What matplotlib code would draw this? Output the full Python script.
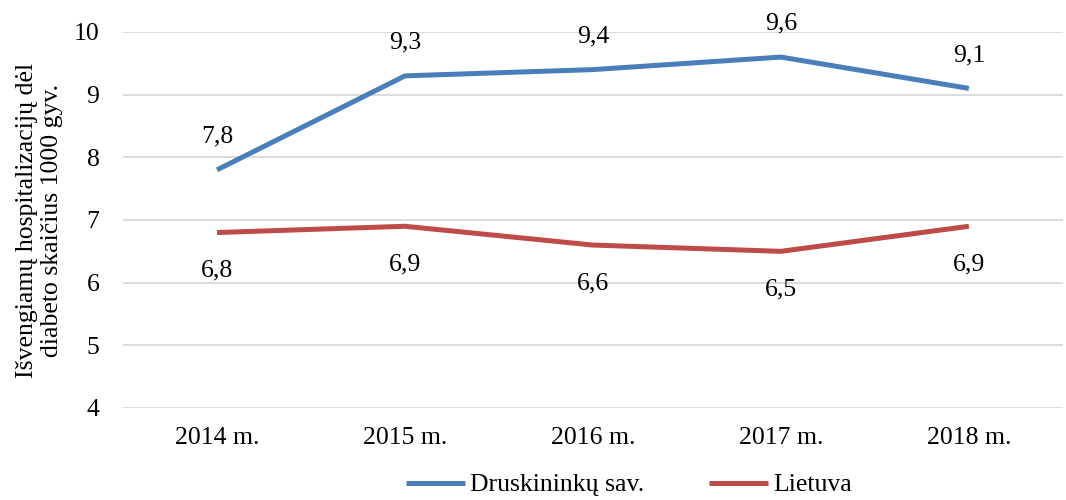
import matplotlib.pyplot as plt

years = ["2014 m.", "2015 m.", "2016 m.", "2017 m.", "2018 m."]
druskininkai = [7.8, 9.3, 9.4, 9.6, 9.1]
lietuva = [6.8, 6.9, 6.6, 6.5, 6.9]

plt.rcParams['font.family'] = ['Liberation Serif', 'DejaVu Serif']

fig = plt.figure(figsize=(10.66, 5), dpi=100)
ax = fig.add_axes([0.1154, 0.184, 0.8816, 0.752])

x = range(len(years))
ax.plot(x, druskininkai, color="#4A7EBB", lw=3.6, label="Druskininkų sav.", solid_capstyle="butt")
ax.plot(x, lietuva, color="#BE4B48", lw=3.6, label="Lietuva", solid_capstyle="butt")

# data labels: blue above, red below
for i, v in enumerate(druskininkai):
    ax.annotate(f"{v:.1f}".replace(".", ","), (i, v), xytext=(0, 24), textcoords="offset points",
                ha="center", va="center", fontsize=18.5)
for i, v in enumerate(lietuva):
    ax.annotate(f"{v:.1f}".replace(".", ","), (i, v), xytext=(0, -27.5), textcoords="offset points",
                ha="center", va="center", fontsize=18.5)

ax.set_xlim(-0.5, 4.5)
ax.set_ylim(4, 10)
ax.set_yticks(range(4, 11))
ax.set_xticks(list(x))
ax.set_xticklabels(years)
ax.tick_params(labelsize=18.5, length=0, pad=14)
ax.tick_params(axis="y", pad=17)
ax.grid(axis="y", color="#D9D9D9", lw=1.3)
ax.set_axisbelow(True)
for s in ax.spines.values():
    s.set_visible(False)

ax.set_ylabel("Išvengiamų hospitalizacijų dėl\ndiabeto skaičius 1000 gyv.", fontsize=18.5, labelpad=8,
              linespacing=1.15)

fig.legend(loc="center", bbox_to_anchor=(0.59, 0.03), ncol=2, frameon=False, fontsize=18.5,
           handlelength=2.3, columnspacing=2.5, handletextpad=0.2)

fig.savefig("out.png", dpi=100)
